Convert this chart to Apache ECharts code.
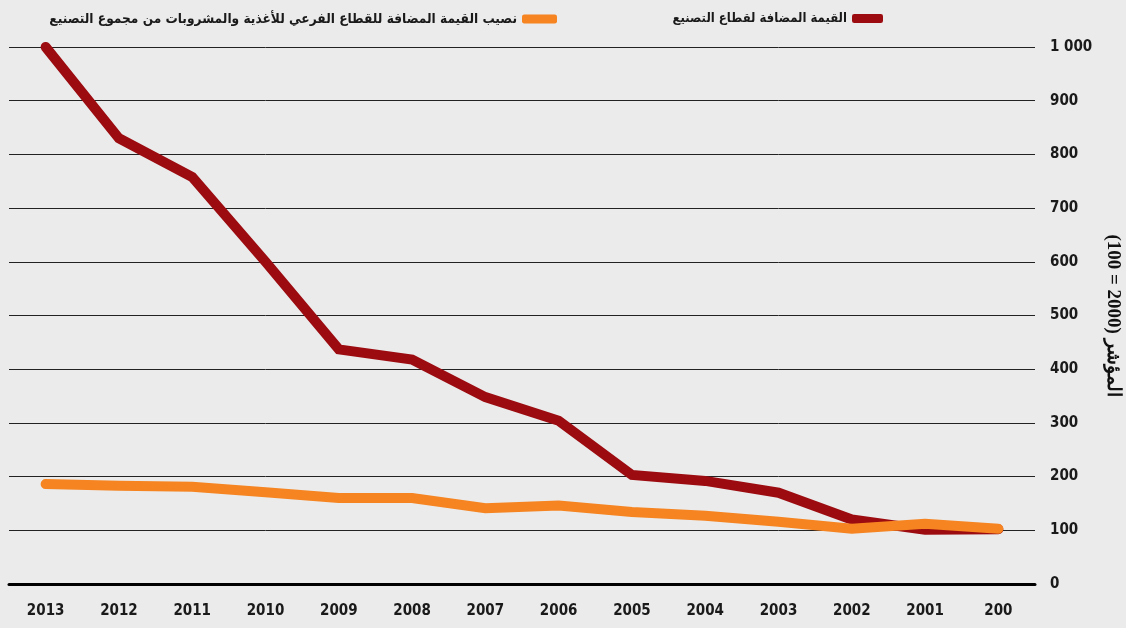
<!DOCTYPE html>
<html>
<head>
<meta charset="utf-8">
<script src="https://cdn.jsdelivr.net/npm/echarts@6/dist/echarts.min.js"></script>
<style>
  html, body { margin: 0; padding: 0; background: #ebebeb; }
  #chart { width: 1126px; height: 628px; }
</style>
</head>
<body>
<div id="chart"></div>
<script>
// years run right-to-left, last label is truncated in the original
const years = ['2013', '2012', '2011', '2010', '2009', '2008', '2007', '2006', '2005', '2004', '2003', '2002', '2001', '200'];
const manufacturing = [1000, 830, 758, 600, 437, 418, 348, 304, 203, 192, 170, 120, 101, 102];
const foodShare = [186, 183, 181, 171, 160, 160, 141, 146, 134, 127, 116, 103, 112, 103];

const nameRed = 'القيمة المضافة لقطاع التصنيع';
const nameOrange = 'نصيب القيمة المضافة للقطاع الفرعي للأغذية والمشروبات من مجموع التصنيع';

const numFont = "'Liberation Sans Narrow', 'DejaVu Sans Condensed', sans-serif";
const arFont = "'DejaVu Sans Condensed', 'DejaVu Sans', sans-serif";

const chart = echarts.init(document.getElementById('chart'));

const option = {
  backgroundColor: '#ebebeb',
  animation: false,
  legend: [
    {
      data: [nameRed],
      top: 7,
      right: 238,
      align: 'right',
      icon: 'roundRect',
      itemWidth: 31,
      itemHeight: 9,
      textStyle: { fontFamily: arFont, fontWeight: 'bold', fontSize: 13, color: '#1a1a1a' }
    },
    {
      data: [nameOrange],
      top: 7,
      right: 564,
      align: 'right',
      icon: 'roundRect',
      itemWidth: 35,
      itemHeight: 9,
      textStyle: { fontFamily: arFont, fontWeight: 'bold', fontSize: 13.6, color: '#1a1a1a' }
    }
  ],
  grid: { left: 9, right: 91, top: 47, bottom: 44, outerBoundsMode: 'none' },
  xAxis: {
    type: 'category',
    data: years,
    boundaryGap: true,
    axisLine: { lineStyle: { color: '#000', width: 3 } },
    axisTick: { show: false },
    axisLabel: { margin: 20, fontFamily: numFont, fontSize: 15, fontWeight: 'bold', color: '#1a1a1a' }
  },
  yAxis: {
    type: 'value',
    position: 'right',
    min: 0,
    max: 1000,
    interval: 100,
    name: '(100 = 2000) المؤشر',
    nameLocation: 'middle',
    nameRotate: -90,
    nameGap: 67,
    nameTextStyle: { fontFamily: "'Liberation Serif', 'DejaVu Serif', serif", fontWeight: 'bold', fontSize: 19, color: '#111' },
    axisLine: { show: false },
    axisTick: { show: false },
    axisLabel: {
      margin: 15,
      fontFamily: numFont,
      fontSize: 15,
      fontWeight: 'bold',
      color: '#1a1a1a',
      formatter: v => v >= 1000 ? '1 000' : String(v)
    },
    splitLine: { lineStyle: { color: '#222', width: 1 } }
  },
  series: [
    {
      name: nameRed,
      type: 'line',
      data: manufacturing,
      showSymbol: false,
      color: '#9b0b10',
      lineStyle: { width: 10, cap: 'round', join: 'miter' }
    },
    {
      name: nameOrange,
      type: 'line',
      data: foodShare,
      showSymbol: false,
      color: '#f58421',
      lineStyle: { width: 10, cap: 'round', join: 'miter' }
    }
  ]
};

chart.setOption(option);
</script>
</body>
</html>
